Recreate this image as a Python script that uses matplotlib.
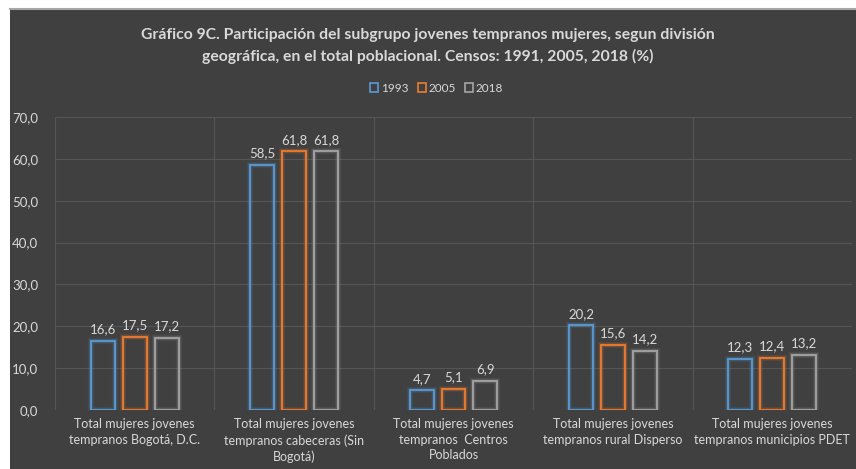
import matplotlib
matplotlib.use("Agg")
import matplotlib.pyplot as plt
from matplotlib.patches import Rectangle, Patch
import numpy as np

categories = [
    "Total mujeres jovenes\ntempranos Bogotá, D.C.",
    "Total mujeres jovenes\ntempranos cabeceras (Sin\nBogotá)",
    "Total mujeres jovenes\ntempranos  Centros\nPoblados",
    "Total mujeres jovenes\ntempranos rural Disperso",
    "Total mujeres jovenes\ntempranos municipios PDET",
]
series_names = ["1993", "2005", "2018"]
v1993 = [16.6, 58.5, 4.7, 20.2, 12.3]
v2005 = [17.5, 61.8, 5.1, 15.6, 12.4]
v2018 = [17.2, 61.8, 6.9, 14.2, 13.2]
yticks = [0, 10, 20, 30, 40, 50, 60, 70]
title = ("Gráfico 9C. Participación del subgrupo jovenes tempranos mujeres, segun división\n"
         "geográfica, en el total poblacional. Censos: 1991, 2005, 2018 (%)")

colors = ["#5b9bd5", "#ed7d31", "#a5a5a5"]
bg = "#404040"
txt = "#d9d9d9"
plt.rcParams['font.family'] = ['Lato', 'DejaVu Sans']

W, H = 856, 469
fig = plt.figure(figsize=(W / 100, H / 100), dpi=100, facecolor="white")
fig.patches.append(Rectangle((10 / W, 0), 1 - 10 / W, 1 - 10 / H, transform=fig.transFigure,
                             facecolor=bg, edgecolor="none", zorder=-10))
fig.lines.append(plt.Line2D([10 / W, 1], [1 - 9.5 / H, 1 - 9.5 / H], transform=fig.transFigure,
                            color="#a6a6a6", lw=1.5, zorder=-9))

ax = fig.add_axes([55 / W, 1 - 410 / H, (852 - 55) / W, (410 - 117) / H])
ax.set_zorder(1)
ax.patch.set_alpha(0)
for s in ax.spines.values():
    s.set_visible(False)

x = np.arange(len(categories))
offs = [-0.2, 0.0, 0.2]
width = 0.15
for vals, c, o in zip([v1993, v2005, v2018], colors, offs):
    for lw, a in [(4.5, 0.1), (3, 0.18)]:
        ax.bar(x + o, vals, width, facecolor="none", edgecolor=c, linewidth=lw, alpha=a, zorder=3)
    bars = ax.bar(x + o, vals, width, facecolor="none", edgecolor=c, linewidth=1.3, zorder=4)
    ax.bar_label(bars, labels=[f"{v:.1f}".replace(".", ",") for v in vals], padding=4,
                 color=txt, fontsize=9.5)

ax.set_xlim(-0.5, len(categories) - 0.5)
ax.set_ylim(0, 70)
ax.set_yticks(yticks)
ax.set_yticklabels([f"{v:.1f}".replace(".", ",") for v in yticks], color=txt, fontsize=9.5)
ax.tick_params(axis="y", length=0, pad=12)
for yv in yticks[1:]:
    ax.axhline(yv, color="#555555", lw=0.8, zorder=1)
for xv in np.arange(-0.5, len(categories), 1.0):
    ax.axvline(xv, color="#555555", lw=0.8, zorder=1)
ax.axhline(0, color="#555555", lw=0.8, zorder=1)
ax.set_xticks(x)
ax.set_xticklabels(categories, color=txt, fontsize=9.0, linespacing=1.35, va="top")
ax.tick_params(axis="x", length=0, pad=6)

fig.text(0.5, 1 - 46 / H, title, ha="center", va="center", color=txt, fontsize=11.3,
         fontweight="bold", linespacing=1.55)
handles = [Patch(facecolor="none", edgecolor=c, linewidth=1.2) for c in colors]
fig.legend(handles, series_names, loc="center", bbox_to_anchor=(0.51, 1 - 88 / H), ncol=3,
           frameon=False, fontsize=8.5, labelcolor=txt, handlelength=0.7, handleheight=0.7,
           handletextpad=0.2, columnspacing=0.8)

fig.savefig("out.png", dpi=100, facecolor="white")
